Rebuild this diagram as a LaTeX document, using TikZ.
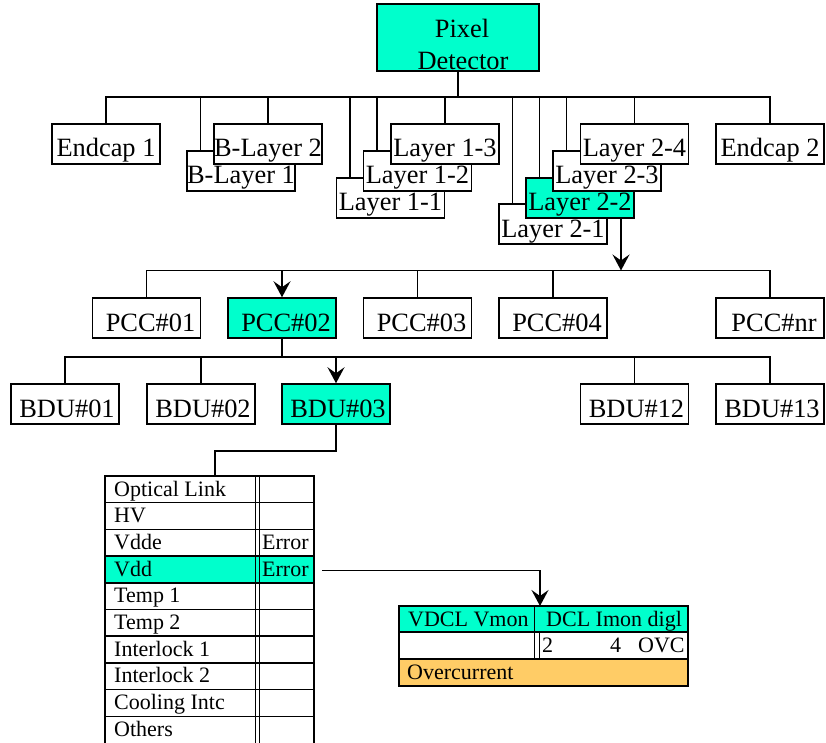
\documentclass[tikz,border=0pt]{standalone}
\usepackage{fontspec}
\setmainfont{Liberation Serif}
\usetikzlibrary{arrows.meta,calc}
\definecolor{hilite}{RGB}{0,255,204}
\definecolor{alarm}{RGB}{255,204,102}
\newcommand\boxfont{\fontsize{26.4}{32}\selectfont}
\newcommand\cellfont{\fontsize{22}{26}\selectfont}
\tikzset{
  box/.style={draw, line width=1.5pt, fill=white, minimum width=108pt, minimum height=40pt,
    inner sep=0pt, text height=26pt, text depth=0pt, font=\boxfont},
  sel/.style={box, fill=hilite},
  wire/.style={line width=1.5pt},
  arr/.style={wire, -{Stealth[length=16pt,width=17pt,inset=6pt]}},
  grid/.style={line width=1.5pt},
  thin grid/.style={line width=1pt},
  cell/.style={anchor=base west, inner sep=0pt, font=\cellfont},
  title/.style={anchor=base, inner sep=0pt, font=\boxfont},
}
\begin{document}
\begin{tikzpicture}[x=1pt,y=-1pt]
\useasboundingbox (0,0) rectangle (826,743);

% ---- detector level ----
\node[sel, minimum width=162pt, minimum height=67pt] (pd) at (458,37.5) {};
\node[title] (pdA) at (462,38) {Pixel};
\node[title] (pdB) at (463,70) {Detector};

\node[box] (e1) at (106,144) {Endcap 1};
\node[box] (bl1) at (241,171) {B-Layer 1};
\node[box] (bl2) at (268,144) {B-Layer 2};
\node[box] (l11) at (390.5,198) {Layer 1-1};
\node[box] (l12) at (417.5,171) {Layer 1-2};
\node[box] (l13) at (445,144) {Layer 1-3};
\node[box] (l21) at (553,224) {Layer 2-1};
\node[sel] (l22) at (580,198) {Layer 2-2};
\node[box] (l23) at (607,171) {Layer 2-3};
\node[box] (l24) at (634.5,144) {Layer 2-4};
\node[box] (e2) at (770,144) {Endcap 2};

\coordinate (busA) at (0,97);
\draw[wire] (pd.south) -- (pd.south |- busA);
\draw[wire] (e1.north) -- (e1.north |- busA) -- (e2.north |- busA) -- (e2.north);
\foreach \n in {bl1,l11,l12,l21,l22,l23}{
  \draw[wire] ($(\n.north west)+(14,0)$) coordinate (\n-in) -- (\n-in |- busA);
}
\foreach \n in {bl2,l13,l24}{
  \draw[wire] (\n.north) -- (\n.north |- busA);
}

% ---- PCC level ----
\node[box] (pcc1) at (146.5,318) {\hspace*{8pt}PCC\#01};
\node[sel] (pcc2) at (282,318) {\hspace*{8pt}PCC\#02};
\node[box] (pcc3) at (417.5,318) {\hspace*{8pt}PCC\#03};
\node[box] (pcc4) at (553,318) {\hspace*{8pt}PCC\#04};
\node[box] (pccnr) at (770,318) {\hspace*{8pt}PCC\#nr};

\coordinate (busB) at (621,270.5);
\draw[arr] (l22.south -| busB) -- (busB);
\draw[wire] (pcc1.north) -- (pcc1.north |- busB) -- (pccnr.north |- busB) -- (pccnr.north);
\foreach \n in {pcc3,pcc4}{
  \draw[wire] (\n.north) -- (\n.north |- busB);
}
\draw[arr] (pcc2.north |- busB) -- (pcc2.north);

% ---- BDU level ----
\node[box] (bdu1) at (65,404) {\hspace*{4pt}BDU\#01};
\node[box] (bdu2) at (201,404) {\hspace*{4pt}BDU\#02};
\node[sel] (bdu3) at (336,404) {\hspace*{4pt}BDU\#03};
\node[box] (bdu12) at (634.5,404) {\hspace*{4pt}BDU\#12};
\node[box] (bdu13) at (770,404) {\hspace*{4pt}BDU\#13};

\coordinate (busC) at (0,357);
\draw[wire] (pcc2.south) -- (pcc2.south |- busC);
\draw[wire] (bdu1.north) -- (bdu1.north |- busC) -- (bdu13.north |- busC) -- (bdu13.north);
\foreach \n in {bdu2,bdu12}{
  \draw[wire] (\n.north) -- (\n.north |- busC);
}
\draw[arr] (bdu3.north |- busC) -- (bdu3.north);

% ---- BDU channel table ----
\coordinate (monin) at (215,476);
\draw[wire] (bdu3.south) -- ++(0,26) -| (monin);

\fill[hilite] (105,556.1) rectangle (314,582.8);
\foreach \i in {1,...,9}{
  \draw[grid] (105,{476+26.7*\i}) -- (314,{476+26.7*\i});
}
\draw[grid] (105,744) -- (105,476) -- (314,476) -- (314,744);
\draw[thin grid] (255,476) -- (255,744);
\draw[thin grid] (259,476) -- (259,744);
\foreach \t [count=\i from 0] in {Optical Link,HV,Vdde,Vdd,Temp 1,Temp 2,Interlock 1,Interlock 2,Cooling Intc,Others}{
  \node[cell] (m\i) at (114,{476+26.7*\i+20}) {\t};
}
\node[cell] (err2) at (262,549.4) {Error};
\node[cell] (err3) at (262,576.1) {Error};

% ---- DCL detail table ----
\fill[hilite] (399,606) rectangle (688,632);
\fill[alarm] (399,659) rectangle (688,686);
\draw[grid] (399,606) rectangle (688,686);
\draw[grid] (399,632) -- (688,632);
\draw[grid] (399,659) -- (688,659);
\draw[thin grid] (534,606) -- (534,659);
\draw[thin grid] (539,632) -- (539,659);
\node[cell] (d1) at (408,626) {VDCL Vmon};
\node[cell] (d2) at (546,626) {DCL Imon digl};
\node[cell] (d3) at (542,652) {2};
\node[cell] (d4) at (610,652) {4};
\node[cell] (d5) at (638,652) {OVC};
\node[cell] (d6) at (407,679) {Overcurrent};

\coordinate (vddout) at (322,570.4);
\coordinate (dclin) at (540,606);
\draw[arr] (vddout) -| (dclin);
\end{tikzpicture}
\end{document}
